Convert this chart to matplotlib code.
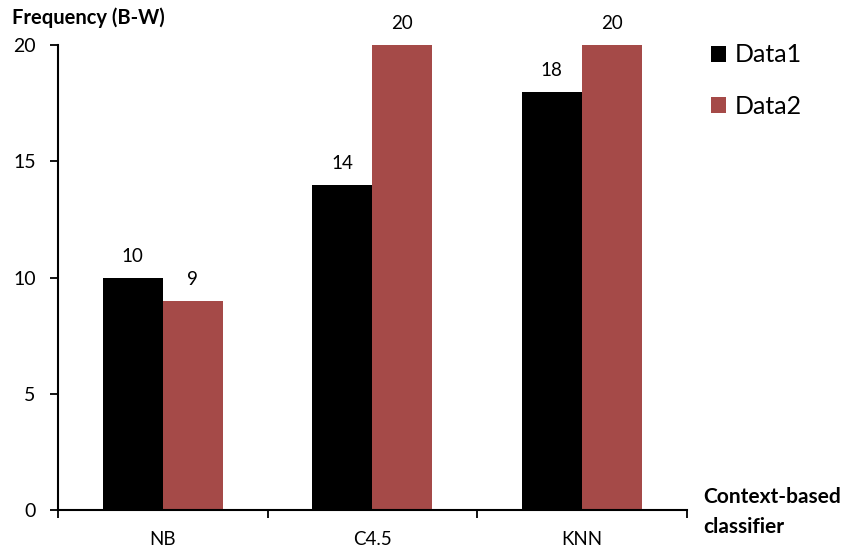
import numpy as np
import matplotlib.pyplot as plt
from matplotlib.patches import Patch

categories = ['NB', 'C4.5', 'KNN']
data1 = [10, 14, 18]
data2 = [9, 20, 20]
series_names = ['Data1', 'Data2']
colors = ['#000000', '#A54A48']

plt.rcParams['font.family'] = ['Lato', 'DejaVu Sans']

fig = plt.figure(figsize=(8.45, 5.51), dpi=100)
ax = fig.add_axes([0.0686, 0.0744, 0.744, 0.8439])

x = np.arange(len(categories))
w = 0.287
b1 = ax.bar(x - w / 2, data1, w, color=colors[0])
b2 = ax.bar(x + w / 2, data2, w, color=colors[1])

# value labels above each bar
for bars, vals in ((b1, data1), (b2, data2)):
    for bar, v in zip(bars, vals):
        ax.text(bar.get_x() + bar.get_width() / 2, v + 0.55, str(v),
                ha='center', va='bottom', fontsize=13.5)

ax.set_xlim(-0.5, 2.5)
ax.set_ylim(0, 20)
ax.set_yticks([0, 5, 10, 15, 20])
ax.set_xticks(x)
ax.set_xticklabels(categories)
ax.set_xticks([-0.5, 0.5, 1.5, 2.5], minor=True)
ax.tick_params(axis='x', which='major', length=0, pad=15, labelsize=13.5)
ax.tick_params(axis='x', which='minor', length=6, width=1.3, direction='out')
ax.tick_params(axis='y', length=6, width=1.3, pad=10, labelsize=14)

for s in ('top', 'right'):
    ax.spines[s].set_visible(False)
for s in ('left', 'bottom'):
    ax.spines[s].set_linewidth(1.5)

handles = [Patch(facecolor=c, label=n) for c, n in zip(colors, series_names)]
fig.legend(handles=handles, loc='upper left', bbox_to_anchor=(0.815, 0.962),
           frameon=False, fontsize=18, handlelength=0.6, handleheight=0.6,
           handletextpad=0.35, labelspacing=1.15)

fig.text(0.014, 0.968, 'Frequency (B-W)', fontsize=14.5, fontweight='bold',
         ha='left', va='center')
fig.text(0.832, 0.071, 'Context-based\nclassifier', fontsize=15,
         fontweight='bold', ha='left', va='center', linespacing=1.6)

fig.savefig('out.png', dpi=100)
